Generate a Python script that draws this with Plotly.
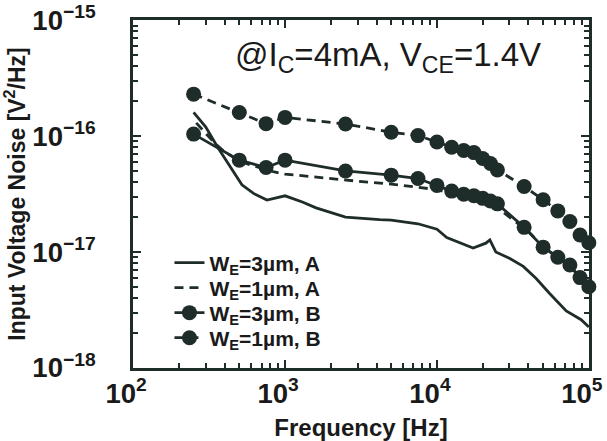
import plotly.graph_objects as go

# Frequency grid of the sampled (B) measurements, Hz
freq_B = [250, 500, 750, 1000, 2500, 5000, 7500, 10000, 12500, 15000, 17500,
          20000, 22500, 25000, 37500, 50000, 62500, 75000, 87500, 100000]

# Input-referred voltage noise, V^2/Hz
noise_1um_B = [2.3e-16, 1.6e-16, 1.28e-16, 1.45e-16, 1.27e-16, 1.08e-16, 1.01e-16,
               8.9e-17, 8.0e-17, 7.5e-17, 7.2e-17, 6.4e-17, 5.8e-17, 5.1e-17,
               3.67e-17, 2.82e-17, 2.26e-17, 1.83e-17, 1.40e-17, 1.20e-17]
noise_3um_B = [1.04e-16, 6.2e-17, 5.35e-17, 6.2e-17, 5.0e-17, 4.6e-17, 4.3e-17,
               3.75e-17, 3.35e-17, 3.15e-17, 3.05e-17, 2.9e-17, 2.75e-17, 2.6e-17,
               1.63e-17, 1.1e-17, 9.0e-18, 7.7e-18, 6.0e-18, 5.0e-18]

# Continuous (A) spectra
freq_3um_A = [250, 300, 360, 440, 520, 620, 760, 1000, 1300, 1600, 2500, 4200,
              5000, 7500, 10000, 11600, 14800, 17300, 21000, 22300, 24400, 30000,
              37000, 45000, 55000, 71000, 89000, 100000]
noise_3um_A = [1.6e-16, 1.2e-16, 8.0e-17, 5.3e-17, 3.8e-17, 3.2e-17, 2.8e-17,
               3.05e-17, 2.7e-17, 2.4e-17, 2.0e-17, 1.9e-17, 1.88e-17, 1.75e-17,
               1.57e-17, 1.33e-17, 1.17e-17, 1.08e-17, 1.19e-17, 1.27e-17, 1.0e-17,
               8.8e-18, 7.5e-18, 5.9e-18, 4.4e-18, 3.1e-18, 2.6e-18, 2.25e-18]

freq_1um_A = [260, 300, 350, 400, 500, 600, 750, 850, 1000, 1500, 2000, 2500, 3500,
              5000, 7500, 10000, 12500, 15000, 20000, 25000, 30000, 40000, 50000,
              60000, 75000, 90000, 100000]
noise_1um_A = [1.3e-16, 1.05e-16, 8.5e-17, 7.3e-17, 6.1e-17, 5.6e-17, 5.1e-17,
               4.9e-17, 4.7e-17, 4.45e-17, 4.3e-17, 4.2e-17, 4.0e-17, 3.85e-17,
               3.6e-17, 3.45e-17, 3.2e-17, 3.0e-17, 2.75e-17, 2.4e-17, 2.0e-17,
               1.5e-17, 1.12e-17, 9.2e-18, 7.5e-18, 5.8e-18, 4.7e-18]

INK = "#1e2c2a"
TXT = "#1a1a1a"
FONT = "Liberation Sans"
DASH = "9px,6px"
LW = 2.8
MS = 15

fig = go.Figure()
fig.add_trace(go.Scatter(x=freq_3um_A, y=noise_3um_A, mode="lines",
                         name="W<sub>E</sub>=3µm, A", legend="legend",
                         line=dict(color=INK, width=LW)))
fig.add_trace(go.Scatter(x=freq_1um_A, y=noise_1um_A, mode="lines",
                         name="W<sub>E</sub>=1µm, A", legend="legend2",
                         line=dict(color=INK, width=LW, dash=DASH)))
fig.add_trace(go.Scatter(x=freq_B, y=noise_3um_B, mode="lines+markers",
                         name="W<sub>E</sub>=3µm, B", legend="legend3",
                         cliponaxis=False,
                         line=dict(color=INK, width=LW),
                         marker=dict(color=INK, size=MS)))
fig.add_trace(go.Scatter(x=freq_B, y=noise_1um_B, mode="lines+markers",
                         name="W<sub>E</sub>=1µm, B", legend="legend4",
                         cliponaxis=False,
                         line=dict(color=INK, width=LW, dash=DASH),
                         marker=dict(color=INK, size=MS)))

# log axes: a labelled tick every decade, unlabelled ticks at 2..9
axis_common = dict(
    type="log", dtick=1, exponentformat="power", showexponent="all",
    automargin=False, ticklabeloverflow="allow",
    showgrid=False, zeroline=False,
    showline=True, linecolor=INK, linewidth=3, mirror="allticks",
    ticks="inside", ticklen=8, tickwidth=2, tickcolor=INK,
    minor=dict(ticks="inside", ticklen=5, tickwidth=2, tickcolor=INK,
               dtick="D1", showgrid=False),
    tickfont=dict(family=FONT, size=22, color=TXT, weight="bold"),
)

fig.update_xaxes(**axis_common, range=[1.999, 5.001],
                 ticklabelstandoff=0, ticklabelshift=-7,
                 title=dict(text="Frequency [Hz]", standoff=12,
                            font=dict(family=FONT, size=24, color=TXT, weight="bold")))
fig.update_yaxes(**axis_common, range=[-18.002, -14.998], ticklabelstandoff=30,
                 title=dict(text="Input Voltage Noise [V<sup>2</sup>/Hz]", standoff=12,
                            font=dict(family=FONT, size=23, color=TXT, weight="bold")))

fig.add_annotation(text="@I<sub>C</sub>=4mA, V<sub>CE</sub>=1.4V",
                   xref="paper", yref="paper", x=0.559, y=0.895,
                   xanchor="center", yanchor="middle", showarrow=False,
                   font=dict(family=FONT, size=33, color=TXT))

legend_style = dict(x=0.08, xanchor="left", yanchor="middle",
                    bgcolor="rgba(0,0,0,0)", borderwidth=0,
                    font=dict(family=FONT, size=21, color=TXT, weight="bold"))

fig.update_layout(
    width=607, height=441,
    margin=dict(l=133, r=18, t=20, b=73, autoexpand=False),
    paper_bgcolor="white", plot_bgcolor="white",
    showlegend=True,
    legend=dict(**legend_style, y=0.302),
    legend2=dict(**legend_style, y=0.230),
    legend3=dict(**legend_style, y=0.158),
    legend4=dict(**legend_style, y=0.086),
)

fig.write_html("out.html")
